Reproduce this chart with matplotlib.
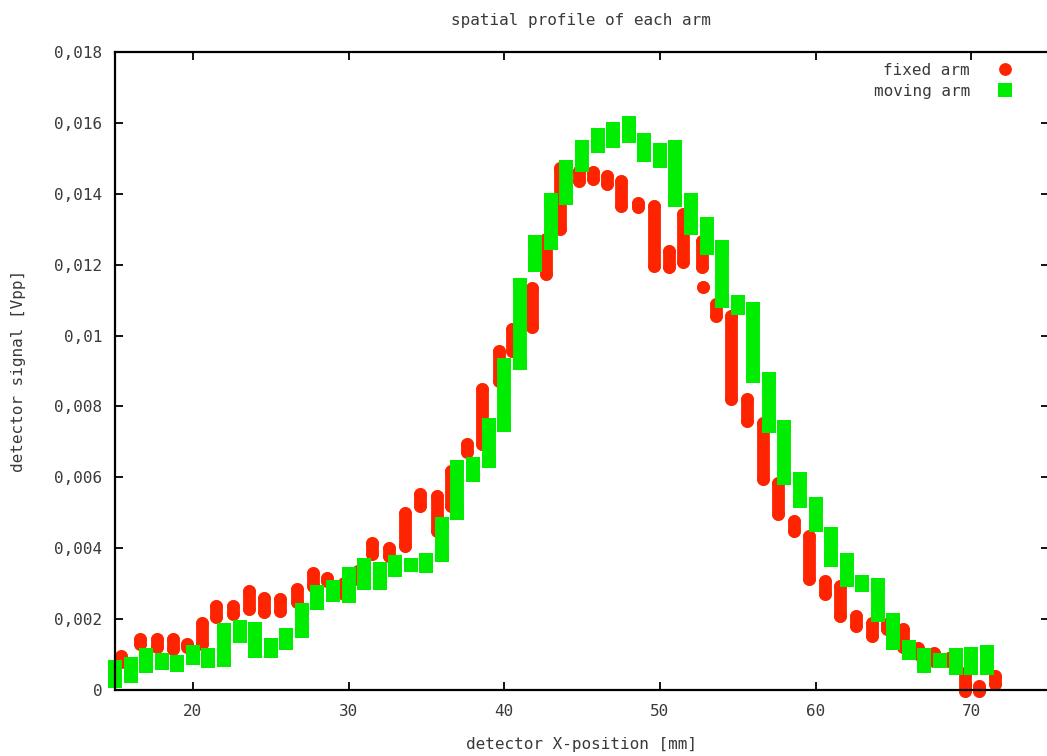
import matplotlib
matplotlib.use("Agg")
import matplotlib.pyplot as plt
from matplotlib.lines import Line2D

# Detector scans: each position holds a spread of repeated readings,
# stored here as the lowest and highest reading at that position.
fixed_x = [15.4, 16.6, 17.7, 18.7, 19.6, 20.6, 21.5, 22.6, 23.6, 24.6,
           25.6, 26.7, 27.7, 28.6, 29.7, 30.6, 31.5, 32.6, 33.6, 34.6,
           35.7, 36.6, 37.6, 38.6, 39.7, 40.5, 41.8, 42.7, 43.6, 44.8,
           45.7, 46.6, 47.5, 48.6, 49.6, 50.6, 51.5, 52.7, 52.8, 53.6,
           54.6, 55.6, 56.6, 57.6, 58.6, 59.6, 60.6, 61.6, 62.6, 63.6,
           64.6, 65.6, 66.6, 67.6, 68.6, 69.6, 70.5, 71.5]
fixed_lo = [0.00080, 0.00130, 0.00121, 0.00116, 0.00121, 0.00130, 0.00206, 0.00214, 0.00228, 0.00220,
            0.00223, 0.00248, 0.00293, 0.00307, 0.00271, 0.00313, 0.00384, 0.00378, 0.00406, 0.00519,
            0.00449, 0.00519, 0.00671, 0.00694, 0.00872, 0.00956, 0.01024, 0.01174, 0.01300, 0.01436,
            0.01442, 0.01427, 0.01365, 0.01363, 0.01196, 0.01193, 0.01207, 0.01193, 0.01137, 0.01055,
            0.00821, 0.00759, 0.00595, 0.00496, 0.00449, 0.00313, 0.00271, 0.00209, 0.00181, 0.00152,
            0.00172, 0.00121, 0.00102, 0.00082, 0.00082, -0.00003, -0.00003, 0.00017]
fixed_hi = [0.00096, 0.00144, 0.00144, 0.00144, 0.00130, 0.00189, 0.00237, 0.00237, 0.00279, 0.00260,
            0.00257, 0.00285, 0.00330, 0.00316, 0.00302, 0.00336, 0.00415, 0.00400, 0.00499, 0.00553,
            0.00547, 0.00618, 0.00694, 0.00849, 0.00956, 0.01018, 0.01134, 0.01272, 0.01473, 0.01464,
            0.01461, 0.01450, 0.01436, 0.01374, 0.01365, 0.01238, 0.01343, 0.01267, 0.01137, 0.01089,
            0.01055, 0.00821, 0.00753, 0.00584, 0.00477, 0.00434, 0.00307, 0.00293, 0.00209, 0.00189,
            0.00186, 0.00172, 0.00118, 0.00104, 0.00090, 0.00048, 0.00011, 0.00039]

moving_x = [15, 16, 17, 18, 19, 20, 21, 22, 23, 24, 25, 26, 27, 28, 29,
            30, 31, 32, 33, 34, 35, 36, 37, 38, 39, 40, 41, 42, 43, 44,
            45, 46, 47, 48, 49, 50, 51, 52, 53, 54, 55, 56, 57, 58, 59,
            60, 61, 62, 63, 64, 65, 66, 67, 68, 69, 70, 71]
moving_lo = [0.00025, 0.00039, 0.00068, 0.00076, 0.00070, 0.00090, 0.00082, 0.00085, 0.00152, 0.00110,
             0.00110, 0.00133, 0.00166, 0.00245, 0.00268, 0.00265, 0.00302, 0.00302, 0.00339, 0.00353,
             0.00350, 0.00381, 0.00499, 0.00607, 0.00646, 0.00748, 0.00922, 0.01199, 0.01261, 0.01388,
             0.01481, 0.01535, 0.01549, 0.01563, 0.01509, 0.01492, 0.01382, 0.01303, 0.01247, 0.01097,
             0.01078, 0.00886, 0.00745, 0.00598, 0.00533, 0.00465, 0.00367, 0.00310, 0.00296, 0.00212,
             0.00133, 0.00104, 0.00068, 0.00082, 0.00062, 0.00062, 0.00062]
moving_hi = [0.00065, 0.00073, 0.00099, 0.00085, 0.00079, 0.00107, 0.00099, 0.00169, 0.00178, 0.00172,
             0.00127, 0.00155, 0.00226, 0.00276, 0.00290, 0.00327, 0.00353, 0.00341, 0.00361, 0.00353,
             0.00367, 0.00468, 0.00629, 0.00638, 0.00748, 0.00917, 0.01142, 0.01264, 0.01382, 0.01475,
             0.01532, 0.01566, 0.01583, 0.01600, 0.01552, 0.01523, 0.01532, 0.01382, 0.01315, 0.01250,
             0.01095, 0.01075, 0.00877, 0.00742, 0.00595, 0.00525, 0.00440, 0.00367, 0.00305, 0.00296,
             0.00197, 0.00121, 0.00099, 0.00085, 0.00099, 0.00102, 0.00107]

x_ticks = [20, 30, 40, 50, 60, 70]
y_ticks = [0, 0.002, 0.004, 0.006, 0.008, 0.01, 0.012, 0.014, 0.016, 0.018]
y_tick_labels = ["0", "0,002", "0,004", "0,006", "0,008", "0,01",
                 "0,012", "0,014", "0,016", "0,018"]

RED = "#ff2400"
GREEN = "#00ec00"
TEXT = "#3a3a3a"
FONT = "DejaVu Sans Mono"
FS = 11.5

fig = plt.figure(figsize=(10.47, 7.56), dpi=100)
W, H = 1047.0, 756.0
ax = fig.add_axes([115 / W, 66 / H, (1049 - 115) / W, (690 - 52) / H])

# red circles: each position drawn as a round-capped stack
red_ms = 9.2
ax.vlines(fixed_x, fixed_lo, fixed_hi, colors=RED, linewidth=red_ms,
          capstyle="round", clip_on=False, zorder=3)
ax.plot(fixed_x, fixed_lo, "o", color=RED, ms=red_ms, mew=0, clip_on=False, zorder=3)
ax.plot(fixed_x, fixed_hi, "o", color=RED, ms=red_ms, mew=0, clip_on=False, zorder=3)

# green squares: square-capped stacks drawn on top
grn_ms = 10.0
ax.vlines(moving_x, moving_lo, moving_hi, colors=GREEN, linewidth=grn_ms,
          capstyle="projecting", clip_on=False, zorder=4)
ax.plot(moving_x, moving_lo, "s", color=GREEN, ms=grn_ms, mew=0, clip_on=False, zorder=4)
ax.plot(moving_x, moving_hi, "s", color=GREEN, ms=grn_ms, mew=0, clip_on=False, zorder=4)

ax.set_xlim(15, 75)
ax.set_ylim(0, 0.018)
ax.set_xticks(x_ticks)
ax.set_xticklabels([str(v) for v in x_ticks])
ax.set_yticks(y_ticks)
ax.set_yticklabels(y_tick_labels)

ax.tick_params(direction="in", length=6, width=1.3, top=True, right=True,
               labelsize=FS, labelcolor=TEXT, colors="black")
ax.tick_params(axis="x", pad=10)
ax.tick_params(axis="y", pad=9)
for lab in ax.get_xticklabels() + ax.get_yticklabels():
    lab.set_fontfamily(FONT)
for sp in ax.spines.values():
    sp.set_linewidth(1.6)
    sp.set_zorder(5)

fig.text(581 / W, 1 - 20 / H, "spatial profile of each arm", ha="center", va="center",
         fontsize=FS, family=FONT, color=TEXT)
fig.text(581 / W, 1 - 745 / H, "detector X-position [mm]", ha="center", va="center",
         fontsize=FS, family=FONT, color=TEXT)
fig.text(19 / W, 1 - 371 / H, "detector signal [Vpp]", ha="center", va="center",
         rotation=90, fontsize=FS, family=FONT, color=TEXT)

handles = [
    Line2D([], [], ls="none", marker="o", color=RED, ms=red_ms, mew=0, label="fixed arm"),
    Line2D([], [], ls="none", marker="s", color=GREEN, ms=grn_ms, mew=0, label="moving arm"),
]
leg = fig.legend(handles=handles, loc="upper right",
                 bbox_to_anchor=(1021 / W, 1 - 63 / H), frameon=False,
                 markerfirst=False, borderpad=0, borderaxespad=0,
                 handletextpad=1.2, handlelength=2.0, labelspacing=0.38,
                 prop={"family": FONT, "size": FS})
for t in leg.get_texts():
    t.set_color(TEXT)

fig.savefig("out.png", dpi=100)
